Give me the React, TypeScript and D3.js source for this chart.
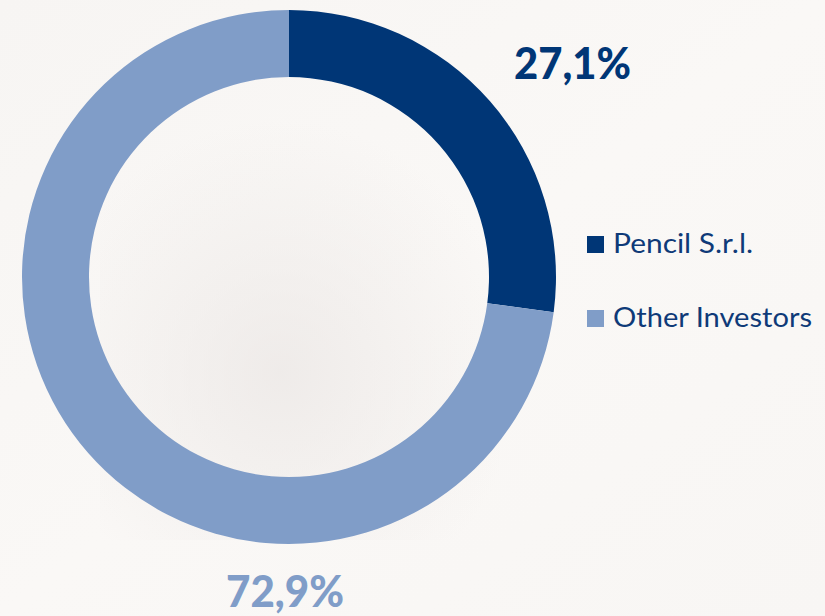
import React from "react";
import * as d3 from "d3";

const categories = ["Pencil S.r.l.", "Other Investors"];
const values = [27.1, 72.9];
const labels = ["27,1%", "72,9%"];
const colors = ["#003676", "#809dc8"];

const W = 825;
const H = 616;

export default function App() {
  const cx = 289;
  const cy = 277;
  const outerR = 267;
  const innerR = 200;

  const pie = d3.pie<number>().sort(null).value((d) => d)(values);
  const arc = d3.arc<d3.PieArcDatum<number>>().innerRadius(innerR).outerRadius(outerR);

  return (
    <div style={{ position: "fixed", left: 0, top: 0, width: W, height: H }}>
      <svg width={W} height={H} style={{ display: "block" }}>
        <defs>
          <linearGradient id="bg" x1="0" y1="0" x2="1" y2="1">
            <stop offset="0" stopColor="#f7f5f3" />
            <stop offset="0.5" stopColor="#faf8f6" />
            <stop offset="1" stopColor="#f8f6f4" />
          </linearGradient>
          <radialGradient id="shade" cx="0.45" cy="0.6" r="0.6">
            <stop offset="0" stopColor="#ece8e6" stopOpacity="0.8" />
            <stop offset="1" stopColor="#ece8e6" stopOpacity="0" />
          </radialGradient>
        </defs>
        <rect x={0} y={0} width={W} height={H} fill="url(#bg)" />
        <rect x={100} y={120} width={400} height={420} fill="url(#shade)" />
        <g transform={`translate(${cx},${cy})`}>
          {pie.map((p, i) => (
            <path key={categories[i]} d={arc(p) || ""} fill={colors[i]} />
          ))}
        </g>
        <text
          x={514}
          y={79}
          fontFamily="Lato, 'Open Sans', sans-serif"
          fontWeight={900}
          fontSize={43}
          fill={colors[0]}
          textLength={117}
          lengthAdjust="spacingAndGlyphs"
        >
          {labels[0]}
        </text>
        <text
          x={226}
          y={607}
          fontFamily="Lato, 'Open Sans', sans-serif"
          fontWeight={900}
          fontSize={43}
          fill={colors[1]}
          textLength={118}
          lengthAdjust="spacingAndGlyphs"
        >
          {labels[1]}
        </text>
        {categories.map((c, i) => {
          const y = 253 + i * 74;
          return (
            <g key={c}>
              <rect x={587} y={y - 17} width={17} height={17} fill={colors[i]} />
              <text
                x={613}
                y={y}
                fontFamily="Lato, 'Open Sans', sans-serif"
                fontSize={27}
                fill="#0f3a78"
                textLength={i === 0 ? 140 : 199}
                lengthAdjust="spacingAndGlyphs"
              >
                {c}
              </text>
            </g>
          );
        })}
      </svg>
    </div>
  );
}
